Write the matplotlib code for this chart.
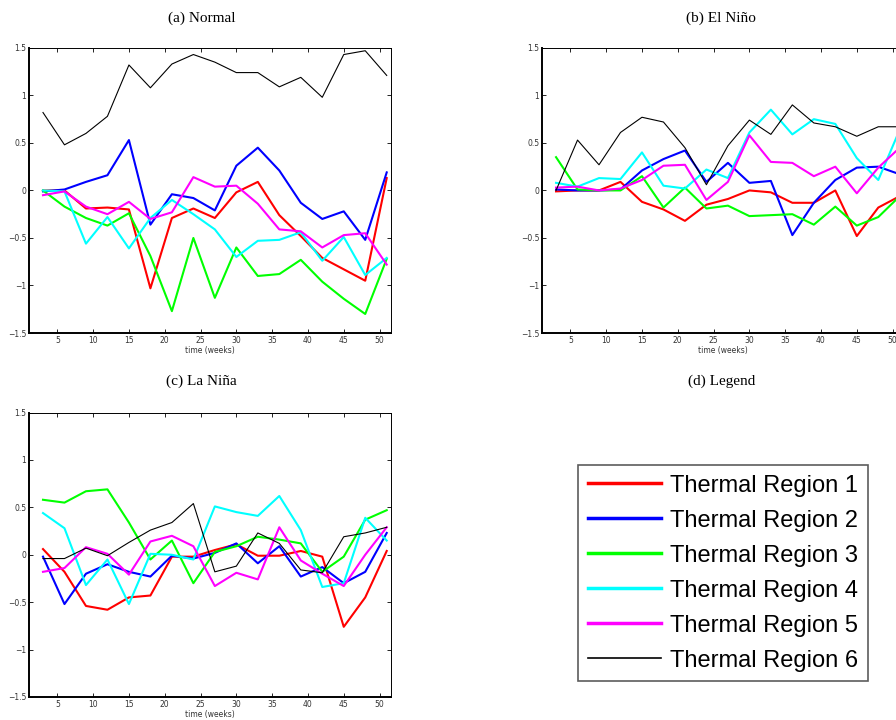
import matplotlib.pyplot as plt
import numpy as np

weeks = np.arange(3, 52, 3)

# (a) Normal
normal_r1 = [0.0, 0.0, -0.19, -0.18, -0.20, -1.03, -0.29, -0.19, -0.29, -0.02, 0.09, -0.26, -0.48, -0.71, -0.83, -0.95, 0.13]
normal_r2 = [-0.01, 0.01, 0.09, 0.16, 0.53, -0.36, -0.04, -0.08, -0.21, 0.26, 0.45, 0.21, -0.13, -0.30, -0.22, -0.52, 0.19]
normal_r3 = [0.0, -0.17, -0.29, -0.37, -0.24, -0.69, -1.27, -0.50, -1.13, -0.60, -0.90, -0.88, -0.73, -0.96, -1.14, -1.30, -0.72]
normal_r4 = [0.0, -0.01, -0.56, -0.28, -0.61, -0.29, -0.10, -0.25, -0.41, -0.70, -0.53, -0.52, -0.44, -0.74, -0.49, -0.89, -0.71]
normal_r5 = [-0.05, -0.01, -0.17, -0.25, -0.12, -0.30, -0.23, 0.14, 0.04, 0.05, -0.14, -0.41, -0.43, -0.60, -0.47, -0.45, -0.78]
normal_r6 = [0.82, 0.48, 0.60, 0.78, 1.32, 1.08, 1.33, 1.43, 1.35, 1.24, 1.24, 1.09, 1.19, 0.98, 1.43, 1.47, 1.21]

# (b) El Nino
nino_r1 = [-0.01, 0.0, 0.0, 0.09, -0.12, -0.20, -0.32, -0.15, -0.09, 0.0, -0.02, -0.13, -0.13, 0.0, -0.48, -0.18, -0.06]
nino_r2 = [0.01, 0.0, 0.0, 0.01, 0.21, 0.33, 0.42, 0.09, 0.29, 0.08, 0.10, -0.47, -0.13, 0.11, 0.24, 0.25, 0.17]
nino_r3 = [0.35, 0.01, 0.0, 0.0, 0.15, -0.18, 0.03, -0.19, -0.16, -0.27, -0.26, -0.25, -0.36, -0.17, -0.37, -0.28, -0.06]
nino_r4 = [0.08, 0.04, 0.13, 0.12, 0.40, 0.05, 0.02, 0.22, 0.13, 0.61, 0.85, 0.59, 0.75, 0.70, 0.34, 0.11, 0.64]
nino_r5 = [0.03, 0.04, 0.0, 0.02, 0.11, 0.26, 0.27, -0.10, 0.09, 0.58, 0.30, 0.29, 0.15, 0.25, -0.03, 0.24, 0.45]
nino_r6 = [0.0, 0.53, 0.27, 0.61, 0.77, 0.72, 0.45, 0.06, 0.47, 0.74, 0.59, 0.90, 0.71, 0.67, 0.57, 0.67, 0.67]

# (c) La Nina
nina_r1 = [0.06, -0.18, -0.54, -0.58, -0.45, -0.43, -0.02, -0.02, 0.05, 0.11, -0.01, -0.01, 0.04, -0.02, -0.76, -0.45, 0.04]
nina_r2 = [-0.02, -0.52, -0.20, -0.10, -0.18, -0.23, -0.01, -0.04, 0.02, 0.12, -0.09, 0.09, -0.23, -0.13, -0.30, -0.18, 0.23]
nina_r3 = [0.58, 0.55, 0.67, 0.69, 0.34, -0.05, 0.15, -0.30, 0.03, 0.09, 0.19, 0.16, 0.12, -0.18, -0.02, 0.37, 0.47]
nina_r4 = [0.44, 0.28, -0.32, -0.05, -0.52, 0.01, 0.0, -0.05, 0.51, 0.45, 0.41, 0.62, 0.26, -0.34, -0.30, 0.39, 0.15]
nina_r5 = [-0.18, -0.14, 0.08, 0.01, -0.21, 0.14, 0.20, 0.09, -0.33, -0.19, -0.26, 0.29, -0.06, -0.20, -0.33, 0.0, 0.29]
nina_r6 = [-0.04, -0.04, 0.07, -0.01, 0.13, 0.26, 0.34, 0.54, -0.18, -0.12, 0.23, 0.12, -0.16, -0.19, 0.19, 0.23, 0.29]

labels = ['Thermal Region 1', 'Thermal Region 2', 'Thermal Region 3',
          'Thermal Region 4', 'Thermal Region 5', 'Thermal Region 6']
colors = ['#ff0000', '#0000ff', '#00ff00', '#00ffff', '#ff00ff', '#000000']
widths = [1.5, 1.5, 1.5, 1.5, 1.5, 0.8]

panels = [
    ('(a) Normal', [normal_r1, normal_r2, normal_r3, normal_r4, normal_r5, normal_r6]),
    ('(b) El Niño', [nino_r1, nino_r2, nino_r3, nino_r4, nino_r5, nino_r6]),
    ('(c) La Niña', [nina_r1, nina_r2, nina_r3, nina_r4, nina_r5, nina_r6]),
]
# axes rectangles in figure fractions
rects = [[0.0324, 0.5375, 0.404, 0.396],
         [0.605, 0.5375, 0.404, 0.396],
         [0.0324, 0.032, 0.404, 0.395]]
title_pos = [(0.225, 0.975), (0.805, 0.975), (0.225, 0.470)]

fig = plt.figure(figsize=(8.96, 7.2), dpi=100)

handles = None
for (title, series), rect, tp in zip(panels, rects, title_pos):
    ax = fig.add_axes(rect)
    lines = []
    for s, c, w, lab in zip(series, colors, widths, labels):
        ln, = ax.plot(weeks, s, color=c, lw=w, label=lab)
        lines.append(ln)
    if handles is None:
        handles = lines
    ax.set_xlim(1.05, 51.6)
    ax.set_ylim(-1.5, 1.5)
    ax.set_xticks(np.arange(5, 51, 5))
    ax.set_yticks([-1.5, -1, -0.5, 0, 0.5, 1, 1.5])
    ax.set_yticklabels(['\u22121.5', '\u22121', '\u22120.5', '0', '0.5', '1', '1.5'])
    ax.tick_params(direction='in', top=True, right=True, length=3, width=0.6,
                   labelsize=5.5, labelcolor='#333333', pad=2)
    for side in ['left', 'bottom']:
        ax.spines[side].set_linewidth(1.4)
    for side in ['top', 'right']:
        ax.spines[side].set_linewidth(0.7)
    ax.set_xlabel('time (weeks)', fontsize=5.5, color='#333333', labelpad=1)
    fig.text(tp[0], tp[1], title, ha='center', va='center',
             family='Liberation Serif', fontsize=11)

fig.text(0.805, 0.470, '(d) Legend', ha='center', va='center',
         family='Liberation Serif', fontsize=11)

leg = fig.legend(handles=handles, labels=labels, loc='center',
                 bbox_to_anchor=(0.807, 0.204), fancybox=False,
                 prop={'family': 'Liberation Sans', 'size': 17},
                 handlelength=3.1, handletextpad=0.4, labelspacing=0.55,
                 borderpad=0.4, borderaxespad=0)
leg.get_frame().set_edgecolor('#333333')
leg.get_frame().set_linewidth(1.2)
for ln in leg.get_lines():
    ln.set_linewidth(2.5 if ln.get_color() != '#000000' else 1.2)

fig.savefig('out.png', dpi=100)
